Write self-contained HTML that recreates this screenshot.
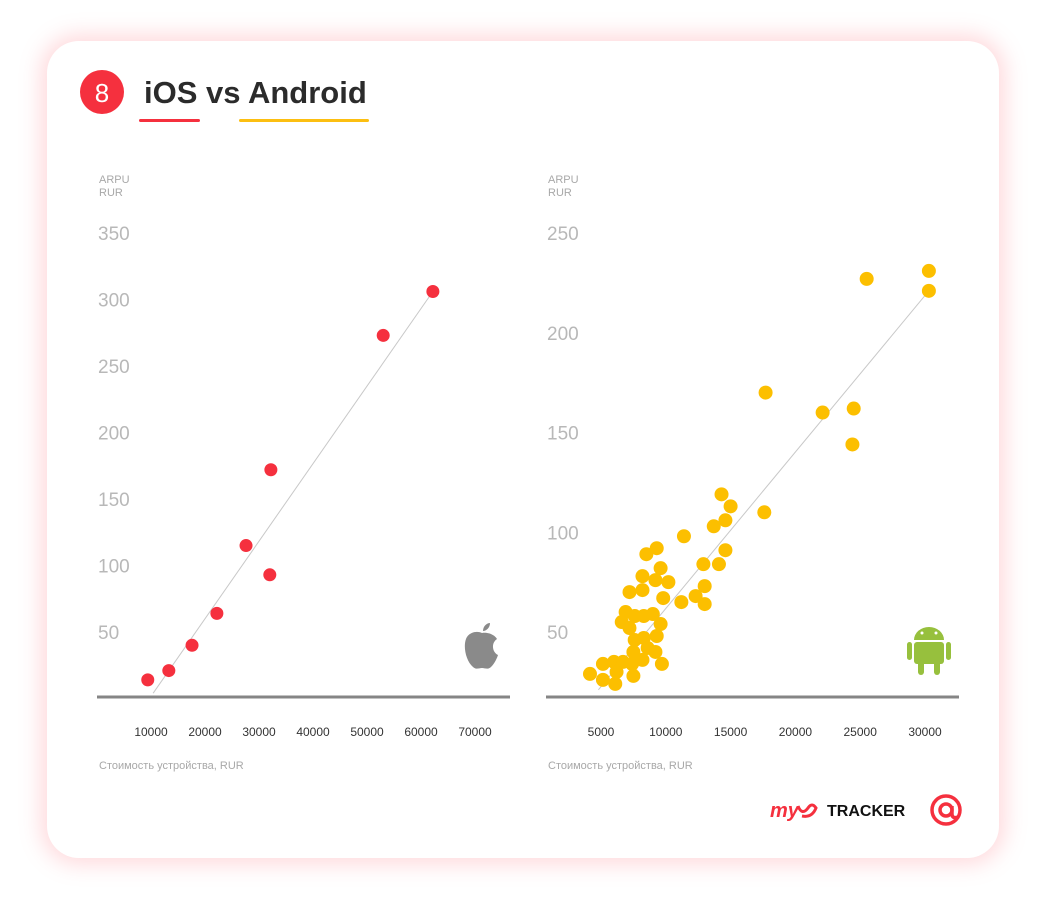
<!DOCTYPE html>
<html><head><meta charset="utf-8"><style>
html,body{margin:0;padding:0;background:#fff;width:1046px;height:900px;overflow:hidden;font-family:"Liberation Sans",sans-serif}
#card{position:absolute;left:47px;top:41px;width:952px;height:817px;border-radius:32px;background:#fff;box-shadow:0 0 22px 6px rgba(255,120,130,0.28)}
svg{position:absolute;left:0;top:0}
</style></head><body>
<div id="card"></div>
<svg id="chart" width="1046" height="900">
<circle cx="102" cy="92" r="22" fill="#f5303e"/>
<text x="102" y="102" text-anchor="middle" font-size="26" fill="#fff">8</text>
<text x="144" y="103" font-size="31" font-weight="bold" fill="#2b2b2b">iOS vs Android</text>
<rect x="139" y="119" width="61" height="3" rx="1.5" fill="#f5303e"/>
<rect x="239" y="119" width="130" height="3" rx="1.5" fill="#fcbf11"/>
<g>
<text x="770" y="817" font-size="20" font-style="italic" font-weight="bold" fill="#f5303e">my</text>
<path d="M798 806 q4 10 10 2 q4 -6 8 0 q-4 10 -14 8" stroke="#f5303e" stroke-width="3" fill="none"/>
<text x="827" y="816" font-size="16" font-weight="bold" fill="#111">TRACKER</text>
</g>
<g>
<circle cx="946" cy="810" r="14" stroke="#f5303e" stroke-width="3.5" fill="none"/>
<circle cx="946" cy="810" r="6" stroke="#f5303e" stroke-width="3.5" fill="none"/>
<path d="M952 806 v8 q0 5 6 3" stroke="#f5303e" stroke-width="3.5" fill="none"/>
</g>
<g fill="#8a8a8a">
<path d="M482 633 c-6 -3 -14 0 -16 6 c-3 8 0 22 7 28 c3 3 6 1 9 1 c3 0 6 2 9 -1 c4 -4 6 -9 7 -12 c-6 -3 -7 -12 -1 -16 c-3 -5 -10 -7 -15 -6 z"/>
<path d="M483 631 c0 -5 4 -8 7 -8 c0 5 -4 8 -7 8 z"/>
</g>
<g fill="#97c03d">
<path d="M914 640 a15 13 0 0 1 30 0 z"/>
<rect x="914" y="642" width="30" height="22" rx="3"/>
<rect x="907" y="642" width="5" height="18" rx="2.5"/>
<rect x="946" y="642" width="5" height="18" rx="2.5"/>
<rect x="918" y="660" width="6" height="15" rx="3"/>
<rect x="934" y="660" width="6" height="15" rx="3"/>
<circle cx="922" cy="633" r="1.5" fill="#fff"/><circle cx="936" cy="633" r="1.5" fill="#fff"/>
</g>
</svg>
<script>
// iOS data
const iosPrice=[9400,13300,17600,22200,27600,32000,32200,53000,62200];
const iosArpu=[14,21,40,64,115,93,172,273,306];
const iosTrendX=[10400,62200];
const iosTrendY=[4,306];
const iosYTicks=[50,100,150,200,250,300,350];
const iosXTicks=[10000,20000,30000,40000,50000,60000,70000];
// Android data
const andPrice=[30.3,30.3,25.5,17.7,22.1,24.5,24.4,17.6,14.3,15.0,13.7,14.6,11.4,14.6,14.1,12.9,13.0,12.3,13.0,11.2,
9.3,8.5,9.6,8.2,9.2,10.2,7.2,8.2,9.8,6.9,7.6,8.3,9.0,6.6,7.2,9.6,7.6,8.3,9.3,7.5,8.6,9.2,8.2,5.15,6.0,6.7,7.4,9.7,4.15,5.15,6.2,7.5,6.1].map(v=>v*1000);
const andArpu=[231,221,227,170,160,162,144,110,119,113,103,106,98,91,84,84,73,68,64,65,
92,89,82,78,76,75,70,71,67,60,58,58,59,55,52,54,46,47,48,40,42,40,36,34,35,35,34,34,29,26,30,28,24];
const andTrendX=[4800,30300];
const andTrendY=[21,221];
const andYTicks=[50,100,150,200,250];
const andXTicks=[5000,10000,15000,20000,25000,30000];

const NS="http://www.w3.org/2000/svg";
const svg=document.getElementById('chart');
function mk(tag,attrs,parent){const e=document.createElementNS(NS,tag);for(const k in attrs)e.setAttribute(k,attrs[k]);(parent||svg).appendChild(e);return e;}

function panel(o){
  const g=mk('g',{});
  
  
  const xs=v=>o.x0+v*o.xk, ys=v=>o.y0-v*o.yk;
  let t=mk('text',{x:o.left,y:183,'font-size':11,fill:'#a8a8a8'},g);t.textContent='ARPU';
  
  
  t=mk('text',{x:o.left,y:196,'font-size':11,fill:'#a8a8a8'},g);t.textContent='RUR';
  
  
  o.yt.forEach(v=>{const l=mk('text',{x:o.left-1,y:ys(v)+7,'font-size':19,fill:'#b8b8b8'},g);l.textContent=v;
    
    });
  o.xt.forEach(v=>{const l=mk('text',{x:xs(v),y:736,'font-size':12,fill:'#333','text-anchor':'middle'},g);l.textContent=v;
    
    });
  t=mk('text',{x:o.left,y:769,'font-size':11,fill:'#a8a8a8'},g);t.textContent='Стоимость устройства, RUR';
  
  
  const tl=mk('line',{x1:xs(o.tx[0]),y1:ys(o.ty[0]),x2:xs(o.tx[1]),y2:ys(o.ty[1]),stroke:'#c8c8c8','stroke-width':1},g);
  
  
  o.px.forEach((p,i)=>{const c=mk('circle',{cx:xs(p),cy:ys(o.py[i]),r:o.r,fill:o.color},g);
    
    });
  const ax=mk('rect',{x:o.left-2,y:695.5,width:413,height:3,fill:'#858585'},g);
  
  
}
panel({name:'ios',x0:97,xk:0.0054,y0:698.5,yk:1.33,left:99,yt:iosYTicks,xt:iosXTicks,px:iosPrice,py:iosArpu,tx:iosTrendX,ty:iosTrendY,color:'#f5303e',r:6.5});
panel({name:'android',x0:536.2,xk:0.01296,y0:731.75,yk:1.995,left:548,yt:andYTicks,xt:andXTicks,px:andPrice,py:andArpu,tx:andTrendX,ty:andTrendY,color:'#fcbf00',r:7});
</script>
</body></html>
